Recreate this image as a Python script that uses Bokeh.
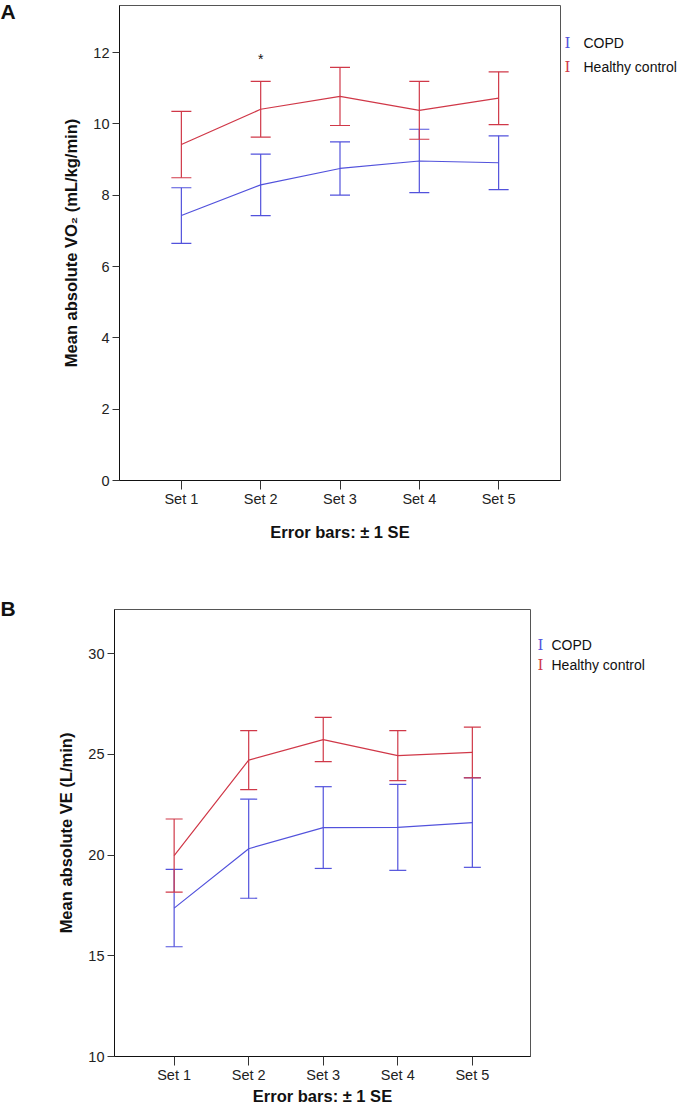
from bokeh.plotting import figure
from bokeh.models import (ColumnDataSource, Whisker, TeeHead, Label, FixedTicker, Range1d)
from bokeh.embed import file_html
from bokeh.resources import INLINE

# ---------------- data ----------------
sets = ["Set 1", "Set 2", "Set 3", "Set 4", "Set 5"]

# Panel A: mean absolute VO2 (mL/kg/min), +-1 SE
vo2_copd_mean = [7.43, 8.29, 8.75, 8.96, 8.91]
vo2_copd_se = [0.78, 0.865, 0.745, 0.89, 0.755]
vo2_hc_mean = [9.42, 10.41, 10.77, 10.38, 10.72]
vo2_hc_se = [0.93, 0.78, 0.815, 0.81, 0.74]
vo2_sig_sets = ["Set 2"]
vo2_sig_y = [11.82]

# Panel B: mean absolute VE (L/min), +-1 SE
ve_copd_mean = [17.37, 20.32, 21.37, 21.38, 21.62]
ve_copd_se = [1.92, 2.46, 2.03, 2.135, 2.225]
ve_hc_mean = [19.98, 24.72, 25.74, 24.94, 25.10]
ve_hc_se = [1.815, 1.465, 1.10, 1.24, 1.26]

vo2_yticks = [0, 2, 4, 6, 8, 10, 12]
ve_yticks = [10, 15, 20, 25, 30]

groups = ["COPD", "Healthy control"]
COL_COPD = "#5252dc"
COL_HC = "#d03848"
FONT = "Liberation Sans"
W = 678


def make_panel(letter, ylabel, copd_m, copd_se, hc_m, hc_se, yticks, y_range,
               x_range, height, borders, cap, xtick_len, xlab_standoff,
               ylab_standoff, legend_xy, legend_gap, text_dx, text_sides, letter_xy,
               sig_sets=None, sig_y=None):
    bt, bb, bl, br = borders
    p = figure(width=W, height=height, output_backend="svg", toolbar_location=None,
               x_range=Range1d(*x_range), y_range=Range1d(*y_range), title=None,
               min_border_top=bt, min_border_bottom=bb, min_border_left=bl,
               min_border_right=br, background_fill_color="white",
               border_fill_color="white")
    p.grid.visible = False
    p.outline_line_color = "#555555"
    p.outline_line_width = 1

    # canvas pixel (top-left origin) -> data helpers for texts outside the frame
    fw = W - bl - br
    fh = height - bt - bb
    ppx = fw / (x_range[1] - x_range[0])
    ppy = fh / (y_range[1] - y_range[0])

    def fx(px):
        return x_range[0] + (px - bl) / ppx

    def fy(py):
        return y_range[0] + (bt + fh - py) / ppy

    xs = [i + 1 for i in range(len(sets))]
    for mean, se, col in [(copd_m, copd_se, COL_COPD), (hc_m, hc_se, COL_HC)]:
        src = ColumnDataSource(dict(x=xs, m=mean,
                                    lo=[a - b for a, b in zip(mean, se)],
                                    hi=[a + b for a, b in zip(mean, se)]))
        p.line("x", "m", source=src, line_color=col, line_width=1.2)
        w = Whisker(base="x", lower="lo", upper="hi", source=src, dimension="height",
                    line_color=col, line_width=1.2,
                    upper_head=TeeHead(size=cap, line_color=col, line_width=1.2),
                    lower_head=TeeHead(size=cap, line_color=col, line_width=1.2))
        p.add_layout(w)

    if sig_sets:
        for s, yv in zip(sig_sets, sig_y):
            p.add_layout(Label(x=sets.index(s) + 1, y=yv, text="*", text_align="center",
                               text_baseline="middle", text_font=FONT,
                               text_font_size="14px", text_color="#111111"))

    # axes
    xa = p.xaxis[0]
    xa.ticker = FixedTicker(ticks=xs)
    xa.major_label_overrides = {i + 1: s for i, s in enumerate(sets)}
    xa.minor_tick_line_color = None
    xa.major_tick_in = 0
    xa.major_tick_out = xtick_len
    xa.major_label_standoff = 1
    xa.axis_label = "Error bars: \u00b1 1 SE"
    xa.axis_label_standoff = xlab_standoff
    ya = p.yaxis[0]
    ya.ticker = FixedTicker(ticks=yticks)
    ya.minor_tick_line_color = None
    ya.major_tick_in = 0
    ya.major_tick_out = 7
    ya.major_label_standoff = 3
    ya.axis_label = ylabel
    ya.axis_label_standoff = ylab_standoff
    for ax in (xa, ya):
        ax.axis_line_color = "#111111"
        ax.major_tick_line_color = "#333333"
        ax.major_label_text_font = FONT
        ax.major_label_text_font_size = "14.5px"
        ax.major_label_text_color = "#222222"
        ax.axis_label_text_font = FONT
        ax.axis_label_text_font_size = "16.5px"
        ax.axis_label_text_font_style = "bold"
        ax.axis_label_text_color = "#111111"

    # texts outside the frame live in side panels (not clipped), placed in data units
    p.add_layout(Label(x=fx(letter_xy[0]), y=fy(letter_xy[1]), text=letter,
                       text_font=FONT, text_font_size="21px", text_font_style="bold",
                       text_baseline="alphabetic", text_color="#111111"), "left")

    lx, ly = legend_xy
    for k, (g, col) in enumerate(zip(groups, [COL_COPD, COL_HC])):
        yy = ly + k * legend_gap
        p.add_layout(Label(x=fx(lx), y=fy(yy), text="I", text_font="DejaVu Serif",
                           text_font_size="15px", text_align="center",
                           text_baseline="middle", text_color=col), "right")
        p.add_layout(Label(x=fx(lx + text_dx), y=fy(yy), text=g, text_font=FONT,
                           text_font_size="14px", text_baseline="middle",
                           text_color="#111111"), text_sides[k])
    return p


pA = make_panel("A", "Mean absolute VO\u2082 (mL/kg/min)",
                vo2_copd_mean, vo2_copd_se, vo2_hc_mean, vo2_hc_se,
                vo2_yticks, (0, 13.32), (0.22, 5.78), 545, (5, 65, 119, 118),
                20, 9, 13, 10, (567, 42), 24, 16, ("left", "right"), (0, 11),
                vo2_sig_sets, vo2_sig_y)
pB = make_panel("B", "Mean absolute VE (L/min)",
                ve_copd_mean, ve_copd_se, ve_hc_mean, ve_hc_se,
                ve_yticks, (10, 32.2), (0.2, 5.78), 562, (64, 51, 114, 148),
                17, 9, 1, 10, (540, 99), 20, 11, ("above", "above"), (0, 63))

open("out.html", "w").write(file_html([pA, pB], INLINE))
